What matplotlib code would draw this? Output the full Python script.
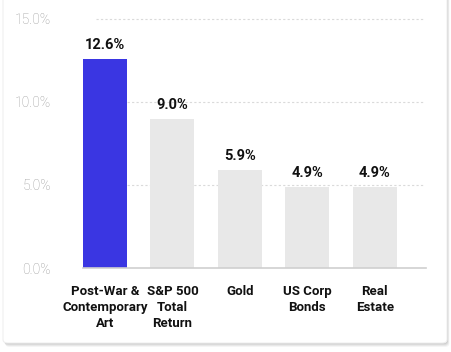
import matplotlib.pyplot as plt
from matplotlib.patches import FancyBboxPatch

# data
categories = ["Post-War &\nContemporary\nArt", "S&P 500\nTotal\nReturn", "Gold",
              "US Corp\nBonds", "Real\nEstate"]
returns = [12.6, 9.0, 5.9, 4.9, 4.9]
y_ticks = [0, 5, 10, 15]

BLUE = "#3A36E2"
GREY_BAR = "#E8E8E8"

plt.rcParams['font.family'] = ['Roboto', 'DejaVu Sans']

W, H = 452, 352
fig = plt.figure(figsize=(W / 100, H / 100), dpi=100)
fig.patch.set_facecolor('white')

# card with soft shadow (top edge runs off the image)
cx, cy, cw, ch = 3 / W, 9 / H, 444 / W, 360 / H
for i, a in enumerate([0.04, 0.05, 0.06, 0.08]):
    off = (4 - i)
    sh = FancyBboxPatch((cx + off * 0.6 / W, cy - off / H), cw, ch,
                        boxstyle="round,pad=0,rounding_size=0.01",
                        transform=fig.transFigure, facecolor='black',
                        edgecolor='none', alpha=a, zorder=-3)
    fig.patches.append(sh)
card = FancyBboxPatch((cx, cy), cw, ch, boxstyle="round,pad=0,rounding_size=0.01",
                      transform=fig.transFigure, facecolor='white',
                      edgecolor='#EFEFEF', linewidth=0.8, zorder=-2)
fig.patches.append(card)

ax = fig.add_axes([83 / W, (H - 268) / H, (426 - 83) / W, (268 - 14) / H])
ax.set_facecolor('none')

x = list(range(len(categories)))
colors = [BLUE] + [GREY_BAR] * (len(categories) - 1)
bars = ax.bar(x, returns, width=0.65, color=colors, zorder=2)

ax.set_xlim(-0.325, 4.76)
ax.set_ylim(0, 15.3)

# dotted grid lines
ax.hlines(y_ticks[1:], -0.13, 4.72, colors='#DADADA', linestyles=(0, (2, 2)),
          linewidth=0.8, zorder=1)

for b, v in zip(bars, returns):
    ax.annotate(f"{v:.1f}%", (b.get_x() + b.get_width() / 2, v),
                xytext=(0, 5), textcoords='offset points', ha='center',
                va='bottom', fontsize=10.5, fontweight='bold', color='#111111')

ax.set_yticks(y_ticks)
ax.set_yticklabels([f"{t:.1f}%" for t in y_ticks], fontsize=10, color='#999999',
                   fontweight='light')
ax.tick_params(axis='y', length=0, pad=23)

ax.set_xticks(x)
ax.set_xticklabels(categories, fontsize=9.5, fontweight='bold', color='#111111',
                   linespacing=1.3)
ax.tick_params(axis='x', length=0, pad=12)

for s in ['top', 'right', 'left']:
    ax.spines[s].set_visible(False)
ax.spines['bottom'].set_color('#CFCFCF')
ax.spines['bottom'].set_linewidth(1.2)

fig.savefig('out.png', dpi=100, facecolor='white')
